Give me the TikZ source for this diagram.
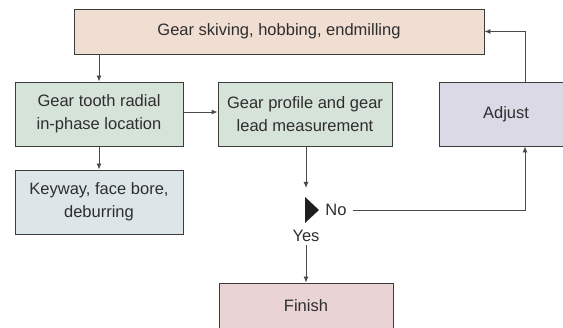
\documentclass[tikz,border=0pt]{standalone}
\usepackage{fontspec}
\setmainfont{Liberation Sans}
\usepackage{xcolor}
\usetikzlibrary{arrows.meta, positioning, calc}
\definecolor{millfill}{HTML}{F1DED3}
\definecolor{measfill}{HTML}{D6E3D9}
\definecolor{keyfill}{HTML}{DCE6E8}
\definecolor{adjfill}{HTML}{DAD9E5}
\definecolor{finfill}{HTML}{E9D3D5}
\definecolor{edgeink}{HTML}{3C3C3C}
\definecolor{lineink}{HTML}{4A4A4A}
\definecolor{textink}{HTML}{2E2E2E}

\begin{document}
\begin{tikzpicture}[x=1pt, y=-1pt,
    every node/.style={font=\fontsize{16.5}{23}\selectfont, text=textink},
    stage/.style={draw=edgeink, line width=0.9pt, align=center, inner sep=0pt},
    flow/.style={lineink, line width=0.9pt, -{Latex[length=6pt,width=5pt]}}]
  \useasboundingbox (0,0) rectangle (563,328);

  % ── Process boxes ───────────────────────────────────────────────────────
  \node[stage, fill=millfill, minimum width=410pt, minimum height=45pt]
    (mill) at (279,31.5) {Gear skiving, hobbing, endmilling};
  \node[stage, fill=measfill, minimum width=168pt, minimum height=64pt]
    (tooth) at (99,114) {Gear tooth radial\\in-phase location};
  \node[stage, fill=measfill, minimum width=174pt, minimum height=64pt]
    (prof) at (305,114) {Gear profile and gear\\lead measurement};
  \node[stage, fill=adjfill, minimum width=134pt, minimum height=64pt]
    (adj) at (506,114) {Adjust};
  \node[stage, fill=keyfill, minimum width=168pt, minimum height=64pt]
    (key) at (99,202) {Keyway, face bore,\\deburring};
  \node[stage, fill=finfill, minimum width=174pt, minimum height=46pt]
    (fin) at (306,306) {Finish};

  % ── Decision marker ─────────────────────────────────────────────────────
  \fill[black!88] (305,197) -- (319,210) -- (305,223) -- cycle;
  \coordinate (dectop) at (306,188);
  \node[inner sep=3pt] (no)  at (336,210) {No};
  \node[inner sep=3pt] (yes) at (306,236) {Yes};

  % ── Connectors ──────────────────────────────────────────────────────────
  \draw[flow] (mill.south -| tooth.north) -- (tooth.north);
  \draw[flow] ([yshift=2pt]tooth.east) -- ([yshift=2pt]prof.west);
  \draw[flow] (tooth.south) -- (key.north);
  \draw[flow] (prof.south -| dectop) -- (dectop);
  \draw[flow] ([xshift=3pt]no.east) -| (adj.south -| 525,0);
  \draw[flow] (adj.north -| 525,0) |- (mill.east);
  \draw[flow] (yes.south -| fin.north) -- (fin.north);
\end{tikzpicture}
\end{document}
